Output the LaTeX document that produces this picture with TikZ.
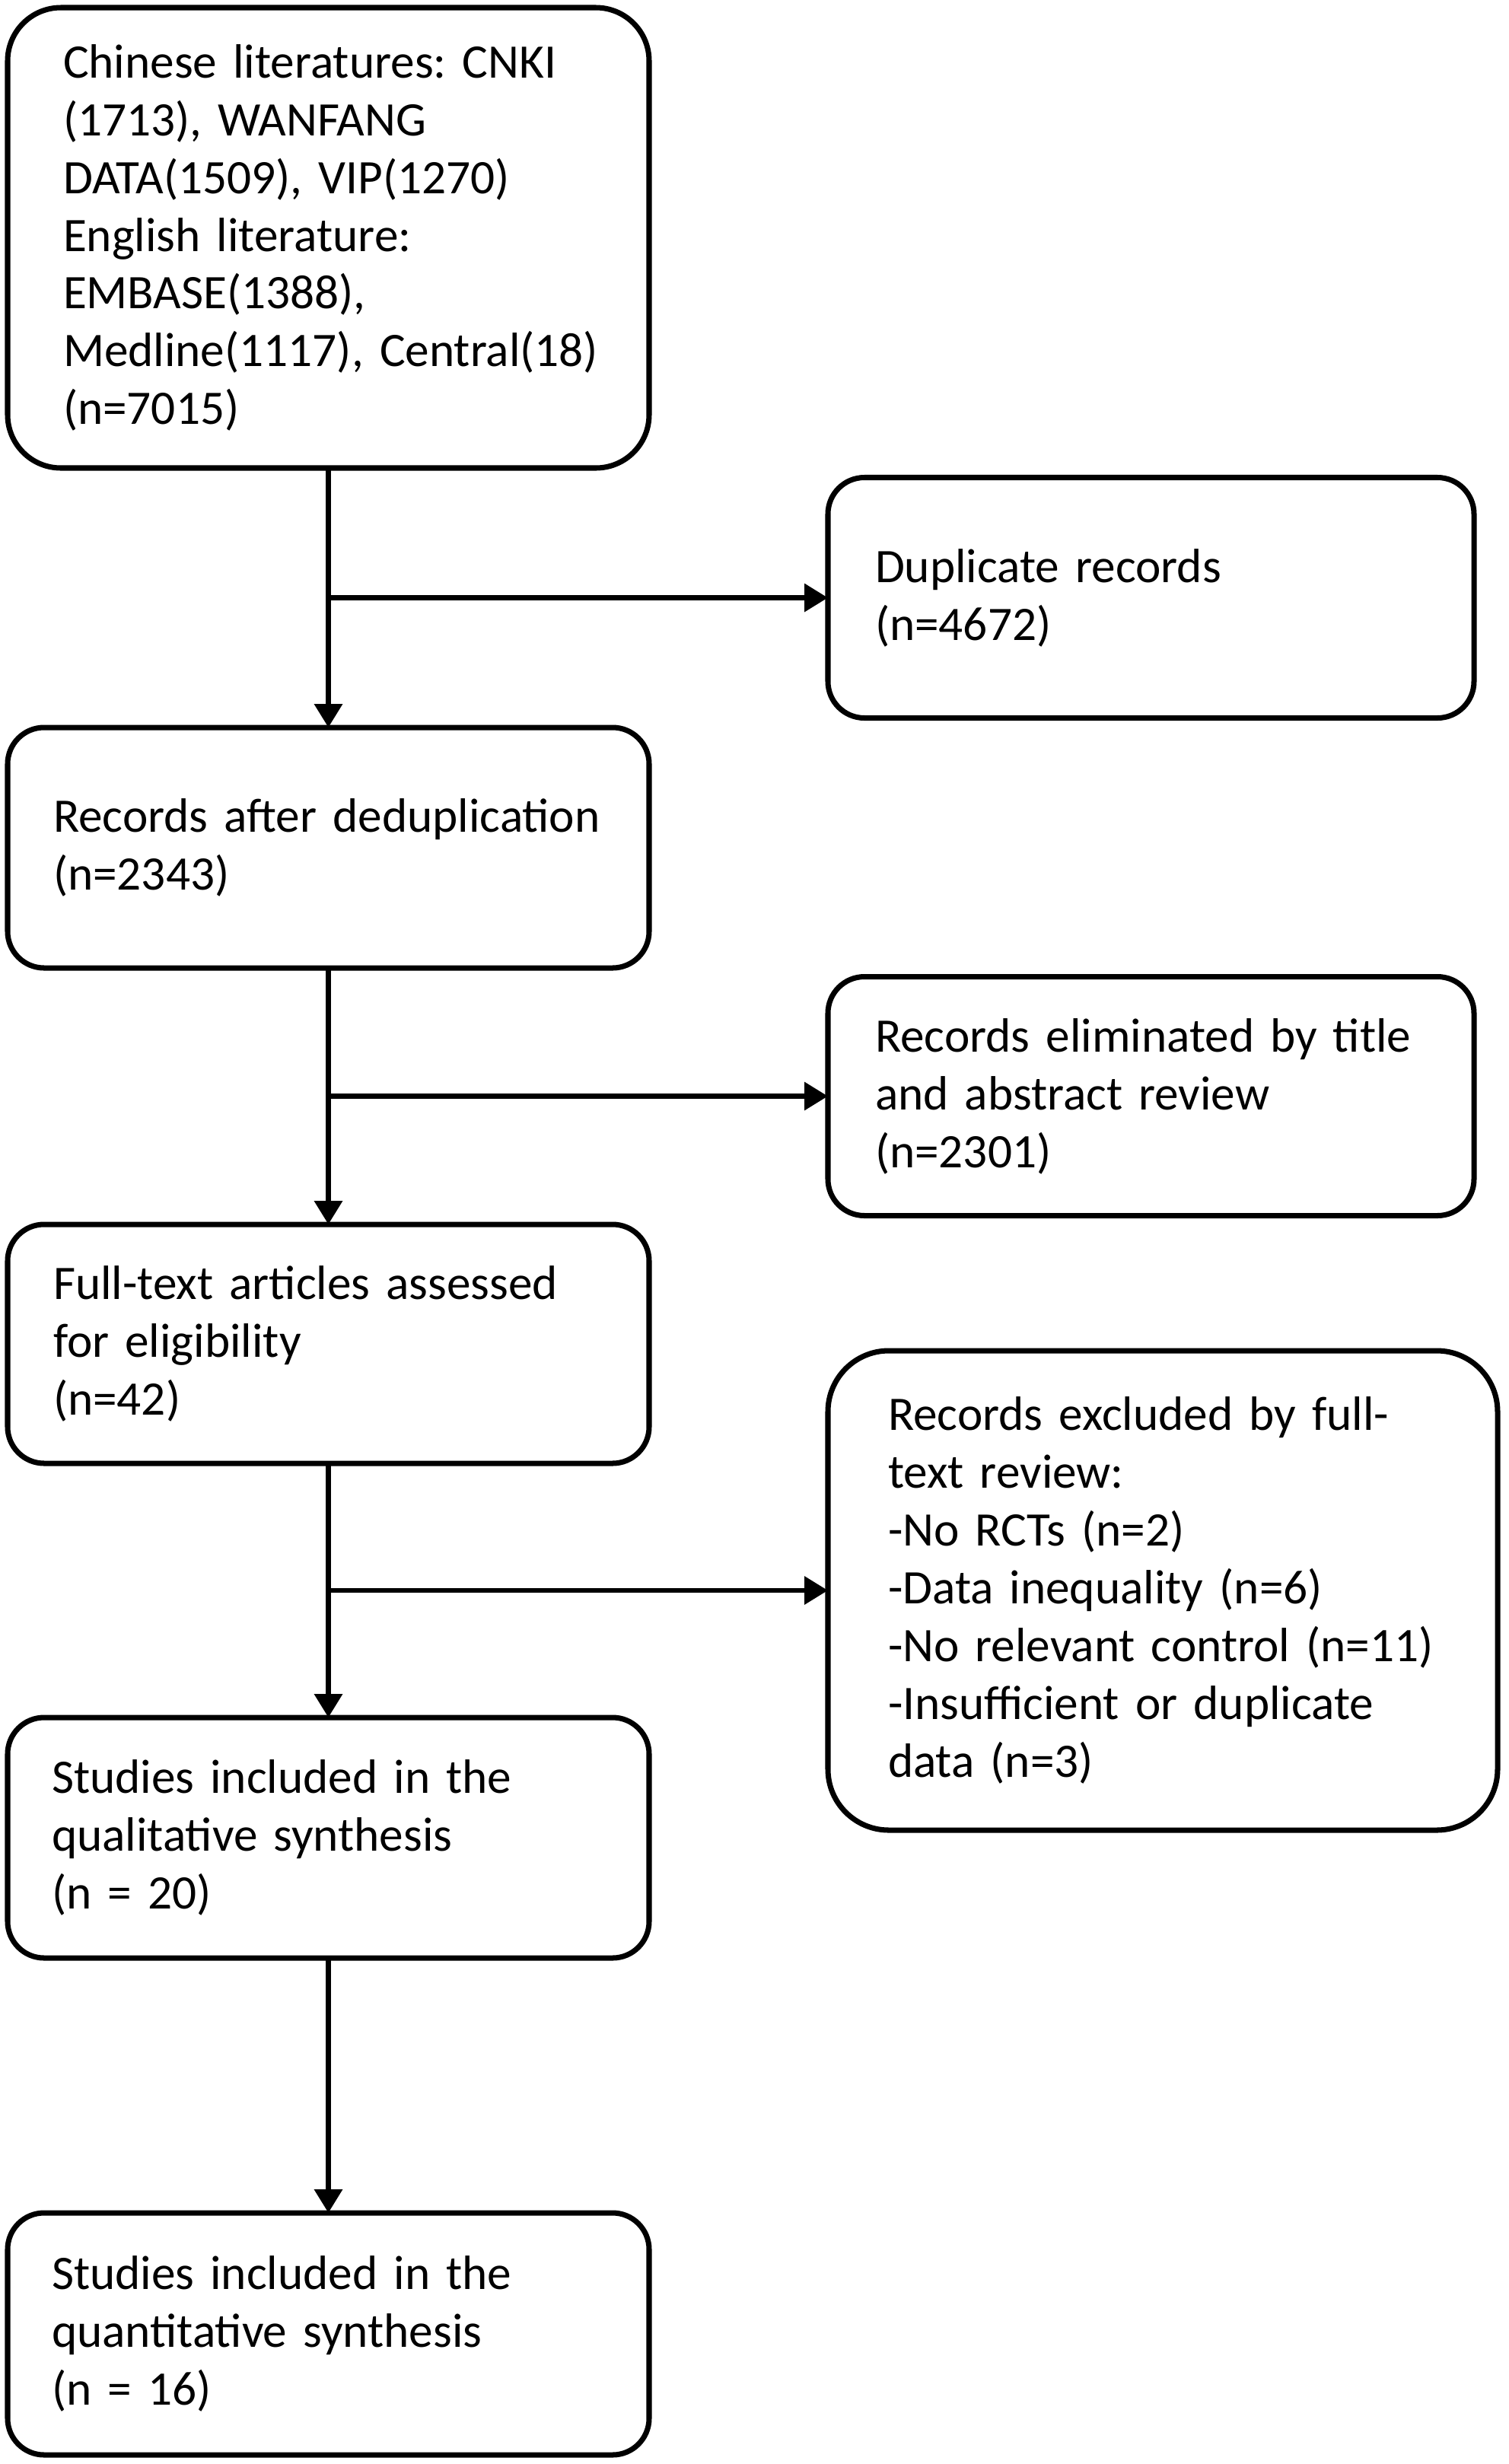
\documentclass[tikz,border=0pt]{standalone}
\usepackage{fontspec}
\setmainfont{Carlito}
\usetikzlibrary{arrows.meta, positioning, calc}
\frenchspacing

\begin{document}
\begin{tikzpicture}[
  font=\fontsize{18}{21.6}\selectfont,
  box/.style={draw, line width=2pt, rounded corners=4.8mm, fill=white, outer sep=0pt,
              align=left, inner xsep=0pt, inner ysep=0pt,
              minimum width=8.43cm, minimum height=3.16cm, text width=7.23cm},
  side/.style={box, minimum width=8.49cm, text width=7.25cm, anchor=west},
  ar/.style={-{Triangle[length=3.1mm, width=3.6mm]}, line width=1.9pt}
]
\useasboundingbox (0,0) rectangle (19.82,-32.38);

% main column
\node[box, minimum height=6.05cm, text width=6.97cm, rounded corners=7mm] (src) at (4.315,-3.125)
  {Chinese literatures: CNKI\\(1713), WANFANG\\DATA(1509), VIP(1270)\\English literature:\\EMBASE(1388),\\\mbox{Medline(1117), Central(18)}\\(n=7015)};
\node[box, below=3.41cm of src] (dedup) {Records after deduplication\\(n=2343)};
\node[box, minimum height=3.14cm, below=3.37cm of dedup] (full) {Full-text articles assessed\\for eligibility\\(n=42)};
\node[box, text width=7.27cm, below=3.34cm of full] (qual) {Studies included in the\\qualitative synthesis\\(n = 20)};
\node[box, text width=7.27cm, minimum height=3.18cm, below=3.35cm of qual] (quant) {Studies included in the\\quantitative synthesis\\(n = 16)};

% excluded records
\node[side] (dup) at ($(src.south)!.5!(dedup.north) + (6.565,0)$) {Duplicate records\\(n=4672)};
\node[side, minimum height=3.14cm] (elim) at ($(dedup.south)!.5!(full.north) + (6.565,0)$)
  {Records eliminated by title\\and abstract review\\(n=2301)};
\node[side, minimum width=8.8cm, minimum height=6.3cm, text width=7.22cm, rounded corners=8mm] (excl)
  at ($(full.south)!.5!(qual.north) + (6.565,0)$)
  {Records excluded by full-\\text review:\\-No RCTs (n=2)\\-Data inequality (n=6)\\\mbox{-No relevant control (n=11)}\\-Insufficient or duplicate\\data (n=3)};

\draw[ar] (src) -- (dedup);
\draw[ar] (dedup) -- (full);
\draw[ar] (full) -- (qual);
\draw[ar] (qual) -- (quant);
\draw[ar] (dup.west -| src.south) -- (dup.west);
\draw[ar] (elim.west -| dedup.south) -- (elim.west);
\draw[ar] (excl.west -| full.south) -- (excl.west);
\end{tikzpicture}
\end{document}
